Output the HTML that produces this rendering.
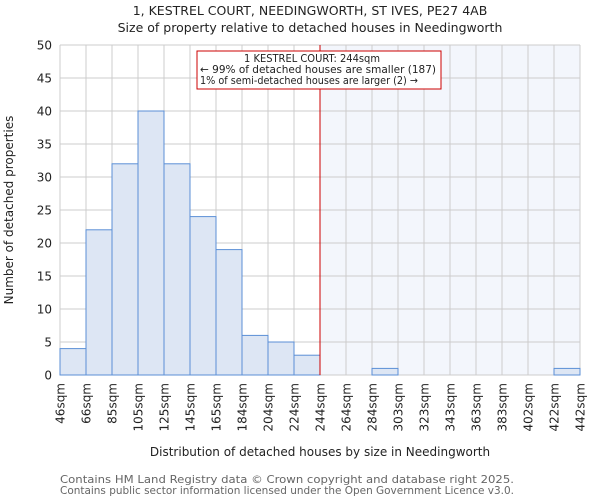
<!DOCTYPE html>
<html><head><meta charset="utf-8"><style>
body{margin:0;background:#fff;font-family:"DejaVu Sans","Liberation Sans",sans-serif;}
</style></head><body>
<svg id="chart" width="600" height="500" xmlns="http://www.w3.org/2000/svg" font-family="DejaVu Sans, Liberation Sans, sans-serif">
<text x="310" y="15" font-size="12.5" text-anchor="middle" fill="#222">1, KESTREL COURT, NEEDINGWORTH, ST IVES, PE27 4AB</text>
<text x="310" y="32" font-size="12.5" text-anchor="middle" fill="#222">Size of property relative to detached houses in Needingworth</text>
<g id="grid"></g><g id="bars"></g><g id="axes"></g>
<text transform="translate(13,210) rotate(-90)" font-size="12" text-anchor="middle" fill="#222">Number of detached properties</text>
<text x="320" y="456" font-size="12" text-anchor="middle" fill="#222">Distribution of detached houses by size in Needingworth</text>
<text x="60" y="483" font-size="10.5" fill="#666" textLength="454" lengthAdjust="spacingAndGlyphs">Contains HM Land Registry data © Crown copyright and database right 2025.</text>
<text x="60" y="494" font-size="10.5" fill="#666" textLength="454" lengthAdjust="spacingAndGlyphs">Contains public sector information licensed under the Open Government Licence v3.0.</text>
</svg>
<script>
const tickLabels=["46sqm","66sqm","85sqm","105sqm","125sqm","145sqm","165sqm","184sqm","204sqm","224sqm","244sqm","264sqm","284sqm","303sqm","323sqm","343sqm","363sqm","383sqm","402sqm","422sqm","442sqm"];
const counts=[4,22,32,40,32,24,19,6,5,3,0,0,1,0,0,0,0,0,0,1];
const yTicks=[0,5,10,15,20,25,30,35,40,45,50];
const markerIndex=10;
const annotationLines=["1 KESTREL COURT: 244sqm","← 99% of detached houses are smaller (187)","1% of semi-detached houses are larger (2) →"];
const L=60,R=580,T=45,B=375,yMax=50;
const NS="http://www.w3.org/2000/svg";
const bw=(R-L)/counts.length;
const x=i=>L+i*bw, y=v=>B-(v/yMax)*(B-T);
function mk(tag,attrs,parent){const e=document.createElementNS(NS,tag);for(const k in attrs)e.setAttribute(k,attrs[k]);parent.appendChild(e);return e;}
const grid=document.getElementById('grid'),bars=document.getElementById('bars'),axes=document.getElementById('axes');
const sh=mk('rect',{x:x(markerIndex),y:T,width:R-x(markerIndex),height:B-T,fill:'#eef2fb',opacity:0.7},grid);


yTicks.forEach(v=>{
 const g=mk('line',{x1:L,x2:R,y1:y(v),y2:y(v),stroke:'#ccc','stroke-width':1},grid);
 
 
 const t=mk('text',{x:L-8,y:y(v)+4.5,'font-size':12,'text-anchor':'end',fill:'#222'},axes);
 t.textContent=v;
 
 
});
tickLabels.forEach((lab,i)=>{
 const g=mk('line',{x1:x(i),x2:x(i),y1:T,y2:B,stroke:'#ccc','stroke-width':1},grid);
 
 
 const t=mk('text',{transform:`translate(${x(i)+4.5},${B+8}) rotate(-90)`,'font-size':12,'text-anchor':'end',fill:'#222'},axes);
 t.textContent=lab;
 
 
});
counts.forEach((c,i)=>{
 if(c<=0)return;
 const r=mk('rect',{x:x(i),y:y(c),width:bw,height:B-y(c),fill:'#dde6f4',stroke:'#5b8fd6','stroke-width':1},bars);
 
 
});
const ml=mk('line',{x1:x(markerIndex),x2:x(markerIndex),y1:T,y2:B,stroke:'#cc0000','stroke-width':1},axes);


const box=mk('rect',{x:197,y:51,width:244,height:38,fill:'#fff',stroke:'#cc0000','stroke-width':1},axes);


const lens=[136,236,218];
annotationLines.forEach((s,k)=>{
 const t=mk('text',{x:k==0?244:200,y:62+k*11,'font-size':10.5,'text-anchor':'start',fill:'#222',textLength:lens[k],lengthAdjust:'spacingAndGlyphs'},axes);
 t.textContent=s;
 
 
});
</script>
</body></html>
